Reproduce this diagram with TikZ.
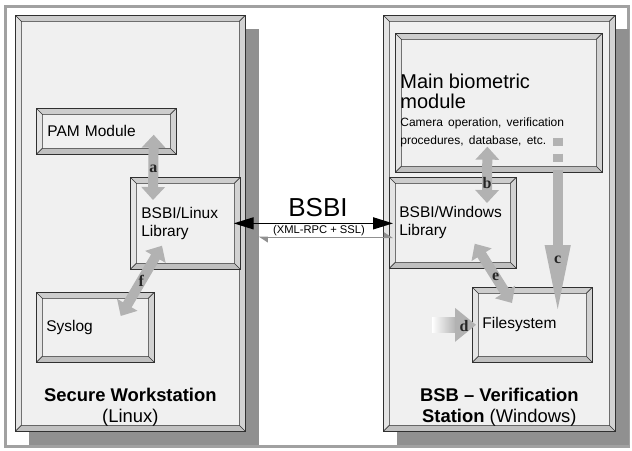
\documentclass[tikz,border=0pt]{standalone}
\usepackage{fontspec}
\setmainfont{Liberation Sans}
\newfontfamily\lblfont{Liberation Serif}
\usetikzlibrary{arrows.meta,calc}
\definecolor{face}{HTML}{F0F0F0}
\definecolor{bevtop}{HTML}{CDCDCD}
\definecolor{bevleft}{HTML}{E4E4E4}
\definecolor{bevbot}{HTML}{C0C0C0}
\definecolor{bevright}{HTML}{D2D2D2}
\definecolor{edge}{HTML}{303030}
\definecolor{shadowc}{HTML}{909090}
\definecolor{arrowc}{HTML}{B2B2B2}
\tikzset{
    bevel/.style={draw=edge, fill=face, line width=.7pt, path picture={
        \coordinate (bnw) at (path picture bounding box.north west);
        \coordinate (bne) at (path picture bounding box.north east);
        \coordinate (bse) at (path picture bounding box.south east);
        \coordinate (bsw) at (path picture bounding box.south west);
        \coordinate (inw) at ([shift={(6,6)}]bnw);
        \coordinate (ine) at ([shift={(-6,6)}]bne);
        \coordinate (ise) at ([shift={(-6,-6)}]bse);
        \coordinate (isw) at ([shift={(6,-6)}]bsw);
        \fill[bevtop] (bnw) -- (bne) -- (ine) -- (inw) -- cycle;
        \fill[bevright] (bne) -- (bse) -- (ise) -- (ine) -- cycle;
        \fill[bevbot] (bse) -- (bsw) -- (isw) -- (ise) -- cycle;
        \fill[bevleft] (bsw) -- (bnw) -- (inw) -- (isw) -- cycle;
        \draw[edge, line width=.7pt] (inw) rectangle (ise) (bnw) -- (inw) (bne) -- (ine) (bse) -- (ise) (bsw) -- (isw);
    }},
    panel/.style={bevel, anchor=north west, inner sep=0pt},
    box/.style={bevel, anchor=north west, align=left, inner xsep=10pt, inner ysep=0pt, font=\fontsize{15.5}{18}\selectfont},
    fat/.style={arrowc, line width=10pt, {Triangle[width=23pt,length=13pt]}-{Triangle[width=23pt,length=13pt]}},
    lbl/.style={font=\lblfont\bfseries\fontsize{16}{16}\selectfont, text=black!85, inner sep=1pt},
    plabel/.style={font=\fontsize{18.4}{21}\selectfont, align=center, above=2pt}
}
\begin{document}
\begin{tikzpicture}[x=1pt, y=-1pt]
    \fill[white] (0,0) rectangle (632,450);
    \useasboundingbox (0,0) rectangle (632,450);
    \draw[shadowc!85, line width=3pt] (5,6) rectangle (628,446);
    \fill[shadowc] (29,29) rectangle (259,445);
    \fill[shadowc] (397,29) rectangle (629,445);
    \node[panel, minimum width=230pt, minimum height=416pt] (lw) at (15,15) {};
    \node[panel, minimum width=232pt, minimum height=416pt] (rw) at (383,15) {};
    \node[plabel] (lwl) at (lw.south) {\textbf{Secure Workstation}\\(Linux)};
    \node[plabel] (rwl) at (rw.south) {\textbf{BSB -- Verification}\\\textbf{Station} (Windows)};
    \node[box, text width=118pt, inner xsep=11pt, minimum height=46pt] (pam) at (36,108) {PAM Module};
    \node[box, text width=88pt, inner xsep=11pt, minimum height=92pt] (lin) at (130,177) {BSBI/Linux\\Library};
    \node[box, text width=98pt, minimum height=70pt] (sys) at (36,292) {Syslog};
    \node[box, text width=197pt, inner xsep=5pt, minimum height=139pt] (mbm) at (395,33)
      {\fontsize{20}{20}\selectfont\rule{0pt}{30pt}Main biometric\\module\\\fontsize{12}{18}\selectfont Camera operation, verification\\\fontsize{12}{14}\selectfont procedures, database, etc.};
    \node[box, text width=107pt, minimum height=91pt] (win) at (389,177) {BSBI/Windows\\Library};
    \node[box, text width=100pt, minimum height=75pt] (fs) at (472,287) {Filesystem};
    \draw[fat] ([shift={(-23,-20)}]pam.south east) -- ([shift={(23,23)}]lin.north west) node[lbl, pos=.52] (la) {a};
    \draw[fat] ([shift={(-11.5,-26)}]mbm.south) -- ([shift={(98,26)}]win.north west) node[lbl, pos=.65] (lb) {b};
    \draw[arrowc, line width=10pt, dash pattern=on 8pt off 8pt] ([shift={(-45,-35)}]mbm.south east) -- ([shift={(-45,-3)}]mbm.south east);
    \draw[arrowc, line width=10pt, -{Triangle[width=23pt,length=70pt]}] ([shift={(-45,-3)}]mbm.south east) -- ([shift={(-35,28)}]fs.north east) node[lbl, pos=.62] (lc) {c};
    \coordinate (dstart) at ([xshift=-40pt]fs.west);
    \shade[left color=white, right color=arrowc] ([shift={(0,-7.5)}]dstart) rectangle ([shift={(24,7.5)}]dstart);
    \fill[arrowc] ([shift={(23,-17)}]dstart) -- ([shift={(44,0)}]dstart) -- ([shift={(23,17)}]dstart) -- cycle;
    \node[lbl] (ld) at ([shift={(32,1)}]dstart) {d};
    \draw[fat] ([shift={(-42,-25)}]win.south east) -- ([shift={(40,16)}]fs.north west) node[lbl, pos=.56] (le) {e};
    \draw[fat] ([shift={(32,-24)}]lin.south west) -- ([shift={(-34,24)}]sys.north east) node[lbl, pos=.5] (lf) {f};
    \draw[shadowc, line width=1.4pt, {Triangle[harpoon,width=10pt,length=8pt]}-{Triangle[harpoon,width=10pt,length=8pt]}] ($(lin.east)+(18,14)$) -- ($(win.west |- lin.east)+(4,14)$);
    \draw[line width=1.4pt, {Triangle[width=12pt,length=20pt]}-{Triangle[width=12pt,length=20pt]}] ($(lin.east)+(-7,0)$) -- ($(win.west |- lin.east)+(4,0)$);
    \node[font=\fontsize{26}{26}\selectfont] (bsbi) at (318,208) {BSBI};
    \node[font=\fontsize{11.2}{12}\selectfont] (xml) at (319,231) {(XML-RPC + SSL)};
\end{tikzpicture}
\end{document}
